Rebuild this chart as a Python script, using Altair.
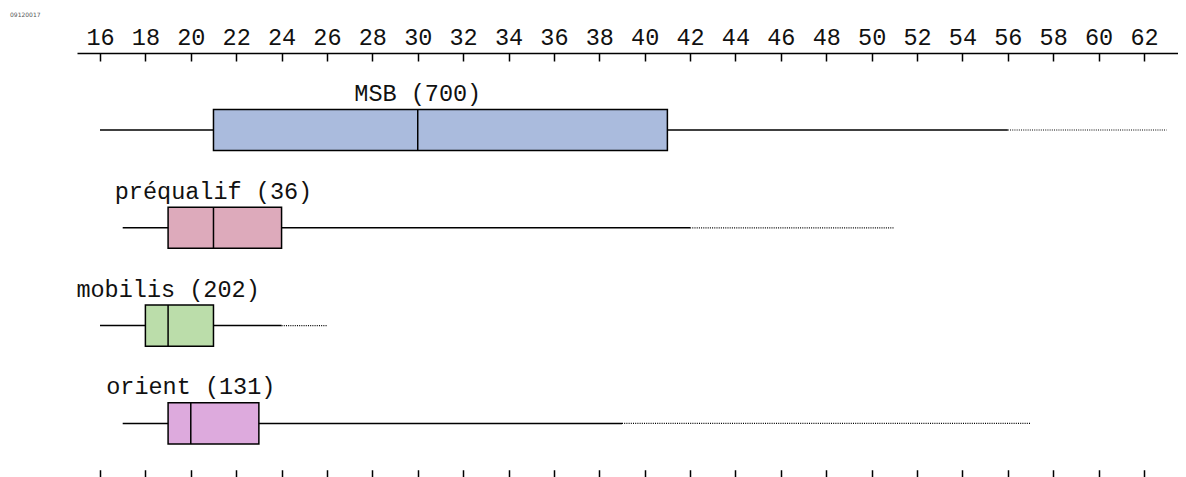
import altair as alt
import pandas as pd

# ---- data ----
categories = ["MSB (700)", "préqualif (36)", "mobilis (202)", "orient (131)"]
low_whisker = [16, 17, 16, 17]
q1 = [21, 19, 18, 19]
median = [30, 21, 19, 20]
q3 = [41, 24, 21, 23]
high_whisker = [56, 42, 24, 39]
maximum = [63, 51, 26, 57]
fill_colors = ["#aabbdd", "#ddaabb", "#bbddaa", "#ddaadd"]
tick_values = list(range(16, 63, 2))
corner_label = "09120017"

df = pd.DataFrame({
    "cat": categories,
    "pos": list(range(len(categories))),
    "lo": low_whisker,
    "q1": q1,
    "med": median,
    "q3": q3,
    "hi": high_whisker,
    "mx": maximum,
})

FONT = "Liberation Mono"
xscale = alt.Scale(domain=[14.9866, 63.498], nice=False, zero=False)
yscale = alt.Scale(domain=[-0.787, 3.548], reverse=True, nice=False, zero=False)

xaxis = alt.Axis(
    orient="top", values=tick_values, title=None,
    domain=True, domainColor="black", domainWidth=1.5,
    ticks=False, tickSize=0,
    grid=True, gridColor="black", gridWidth=1.5, gridDash=[8, 408.7, 20],
    labelFont=FONT, labelFontSize=23.5, labelColor="#111111",
    labelBaseline="alphabetic", labelPadding=9,
    labelFlush=False, labelOverlap=False,
)

base = alt.Chart(df).transform_calculate(
    top="datum.pos - 0.21", bot="datum.pos + 0.21"
)

whisker = base.mark_rule(color="black", strokeWidth=1.5).encode(
    x=alt.X("lo:Q", scale=xscale, axis=xaxis),
    x2="hi:Q",
    y=alt.Y("pos:Q", scale=yscale, axis=None),
)

dotted = base.mark_rule(color="black", strokeWidth=1.2, strokeDash=[1, 1.2]).encode(
    x=alt.X("hi:Q", scale=xscale, axis=xaxis),
    x2="mx:Q",
    y=alt.Y("pos:Q", scale=yscale, axis=None),
)

box = base.mark_rect(stroke="black", strokeWidth=1.5).encode(
    x=alt.X("q1:Q", scale=xscale, axis=xaxis),
    x2="q3:Q",
    y=alt.Y("top:Q", scale=yscale, axis=None),
    y2="bot:Q",
    fill=alt.Fill("cat:N", scale=alt.Scale(domain=categories, range=fill_colors), legend=None),
)

med_rule = base.mark_rule(color="black", strokeWidth=1.5).encode(
    x=alt.X("med:Q", scale=xscale, axis=xaxis),
    y=alt.Y("top:Q", scale=yscale, axis=None),
    y2="bot:Q",
)

labels = base.mark_text(font=FONT, fontSize=23.5, color="#111111", align="center",
                        baseline="alphabetic", dy=-29).encode(
    x=alt.X("med:Q", scale=xscale, axis=xaxis),
    y=alt.Y("pos:Q", scale=yscale, axis=None),
    text="cat:N",
)

corner = alt.Chart(pd.DataFrame({"t": [corner_label]})).mark_text(
    font="DejaVu Sans", fontSize=6, color="#555555", align="left", baseline="middle"
).encode(x=alt.value(-67), y=alt.value(-38), text="t:N")

chart = alt.layer(whisker, dotted, box, med_rule, labels, corner).properties(
    width=1101, height=424,
    padding={"left": 69, "top": 45, "right": 0, "bottom": 0},
    autosize=alt.AutoSizeParams(type="none"),
    background="white",
).configure_view(stroke=None)

chart.save("out.html", embed_options={"renderer": "svg", "actions": False})
